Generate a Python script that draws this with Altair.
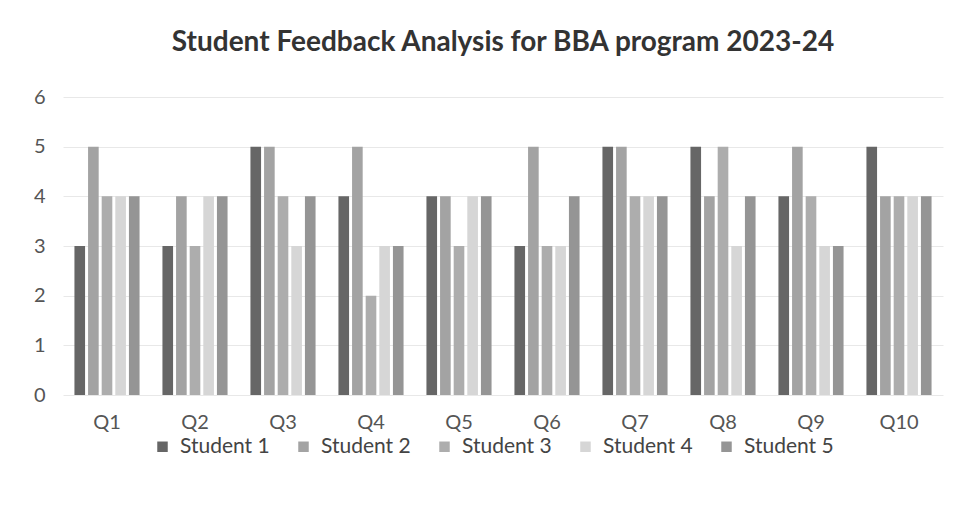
import altair as alt
import pandas as pd

questions = ["Q1", "Q2", "Q3", "Q4", "Q5", "Q6", "Q7", "Q8", "Q9", "Q10"]
students = ["Student 1", "Student 2", "Student 3", "Student 4", "Student 5"]
student1 = [3, 3, 5, 4, 4, 3, 5, 5, 4, 5]
student2 = [5, 4, 5, 5, 4, 5, 5, 4, 5, 4]
student3 = [4, 3, 4, 2, 3, 3, 4, 5, 4, 4]
student4 = [4, 4, 3, 3, 4, 3, 4, 3, 3, 4]
student5 = [4, 4, 4, 3, 4, 4, 4, 4, 3, 4]
colors = ["#666666", "#a3a3a3", "#adadad", "#d6d6d6", "#959595"]

series = [student1, student2, student3, student4, student5]
rows = []
for s, vals in zip(students, series):
    for q, v in zip(questions, vals):
        rows.append({"Question": q, "Student": s, "Score": v})
df = pd.DataFrame(rows)

FONT = "Lato"

chart = alt.Chart(df).mark_bar().encode(
    x=alt.X("Question:N", sort=questions, title=None,
            scale=alt.Scale(paddingInner=0.26, paddingOuter=0.13),
            axis=alt.Axis(labelAngle=0, labelFontSize=20, labelColor="#555",
                          labelFont=FONT, domain=False, ticks=False, labelPadding=17)),
    xOffset=alt.XOffset("Student:N", sort=students, scale=alt.Scale(paddingInner=0.22)),
    y=alt.Y("Score:Q", title=None,
            scale=alt.Scale(domain=[0, 6]),
            axis=alt.Axis(values=[0, 1, 2, 3, 4, 5, 6], labelFontSize=20, labelColor="#555",
                          labelFont=FONT, domain=False, ticks=False, labelPadding=18,
                          gridColor="#e8e8e8")),
    color=alt.Color("Student:N", sort=students,
                    scale=alt.Scale(domain=students, range=colors),
                    legend=alt.Legend(orient="none", direction="horizontal", title=None,
                                      legendX=89, legendY=339,
                                      symbolType="square", symbolSize=110, labelOffset=7,
                                      labelFontSize=21, labelFont=FONT, labelColor="#444",
                                      columnPadding=23)),
).properties(
    width=880, height=298,
    background="white",
    padding={"left": 25, "top": 21, "right": 5, "bottom": 5},
    title=alt.Title("Student Feedback Analysis for BBA program 2023-24",
                    fontSize=28, font=FONT, fontWeight="bold", color="#333", offset=30),
).configure_view(stroke=None)

chart.save("out.html", embed_options={"renderer": "svg", "actions": False})
